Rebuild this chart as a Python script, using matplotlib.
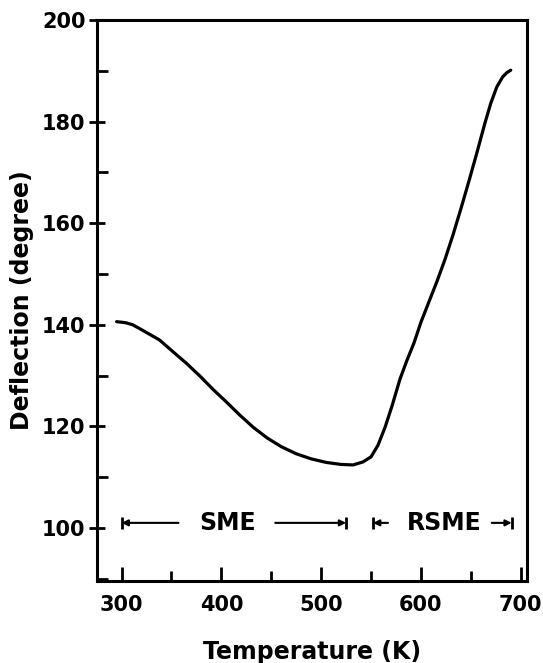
import matplotlib
matplotlib.use("Agg")
import matplotlib.pyplot as plt
from matplotlib.ticker import MultipleLocator

# Data
temperature = [295, 304, 311, 322, 338, 352, 365, 379, 392, 405, 418, 432, 446, 460,
               475, 490, 505, 520, 532, 542, 550, 557, 564, 571, 579, 586, 593,
               600, 608, 616, 624, 632, 640, 648, 656, 664, 670, 676, 682, 686, 690]
deflection = [140.6, 140.4, 140.0, 138.8, 137.0, 134.6, 132.4, 129.8, 127.2, 124.8, 122.3,
              119.8, 117.7, 116.0, 114.6, 113.6, 112.9, 112.5, 112.4, 113.0, 114.0,
              116.3, 119.8, 124.0, 129.3, 133.0, 136.4, 140.5, 144.5, 148.5, 152.8,
              157.6, 162.8, 168.2, 173.8, 179.6, 183.6, 186.8, 188.8, 189.6, 190.1]

x_ticks = [300, 400, 500, 600, 700]
y_ticks = [100, 120, 140, 160, 180, 200]

# Regions: (label, start, text-left gap, text-right gap, end, text centre)
regions = [("SME", 300, 357, 454, 525, 406),
           ("RSME", 552, 567, 671, 691, 623)]
region_y = 101

plt.rcParams['font.family'] = ['DejaVu Sans']
plt.rcParams['font.weight'] = 'bold'

fig = plt.figure(figsize=(5.43, 6.63), dpi=100)
ax = fig.add_axes([0.178, 0.124, 0.792, 0.846])

ax.plot(temperature, deflection, color='black', lw=2.3, solid_capstyle='round')

ax.set_xlim(275, 706)
ax.set_ylim(89.6, 200)
ax.set_xticks(x_ticks)
ax.set_yticks(y_ticks)
ax.xaxis.set_minor_locator(MultipleLocator(50))
ax.yaxis.set_minor_locator(MultipleLocator(10))

for s in ax.spines.values():
    s.set_linewidth(2.2)

ax.tick_params(axis='y', which='major', direction='inout', length=12, width=2,
               labelsize=15, pad=2)
ax.tick_params(axis='y', which='minor', direction='in', length=8, width=2)
ax.tick_params(axis='x', which='major', direction='in', length=10, width=2,
               labelsize=15, pad=10)
ax.tick_params(axis='x', which='minor', direction='in', length=7, width=2)
for lab in ax.get_xticklabels() + ax.get_yticklabels():
    lab.set_fontweight('bold')

ax.set_ylabel('Deflection (degree)', fontsize=17, fontweight='bold')
ax.yaxis.set_label_coords(-0.145, 0.5)
ax.set_xlabel('Temperature (K)', fontsize=17, fontweight='bold')
ax.xaxis.set_label_coords(0.5, -0.106)

for label, x0, g0, g1, x1, xc in regions:
    ax.annotate('', xy=(x0, region_y), xytext=(g0, region_y),
                arrowprops=dict(arrowstyle='-|>', color='black', lw=1.5,
                                mutation_scale=9, shrinkA=0, shrinkB=0))
    ax.annotate('', xy=(x1, region_y), xytext=(g1, region_y),
                arrowprops=dict(arrowstyle='-|>', color='black', lw=1.5,
                                mutation_scale=9, shrinkA=0, shrinkB=0))
    ax.plot([x0, x1], [region_y, region_y], ls='none', marker='|', ms=9,
            mew=2, color='black')
    ax.text(xc, region_y, label, ha='center', va='center', fontsize=17,
            fontweight='bold')

fig.savefig('out.png', dpi=100)
